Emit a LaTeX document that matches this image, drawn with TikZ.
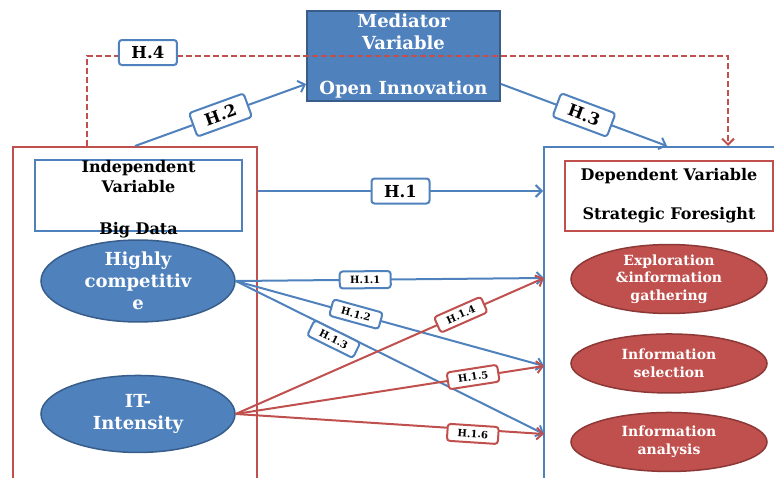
\documentclass[tikz,border=0pt]{standalone}
\usepackage{fontspec}
\setmainfont{DejaVu Serif}
\usetikzlibrary{positioning,shapes.geometric,arrows.meta}

\definecolor{hblue}{HTML}{4F81BD}
\definecolor{hbluedk}{HTML}{385D8A}
\definecolor{hred}{HTML}{C0504D}
\definecolor{hreddk}{HTML}{8C3836}

\tikzstyle{area} = [rectangle, draw, line width=2pt, fill=none, inner sep=0]
\tikzstyle{ib} = [rectangle, draw, fill=white, line width=2pt, inner sep=0, align=center, font=\bfseries\fontsize{16}{19}\selectfont]
\tikzstyle{eb} = [ellipse, draw=hbluedk, fill=hblue, line width=1.5pt, text=white, align=center, inner sep=0, minimum width=194, minimum height=77, font=\bfseries\fontsize{18}{22}\selectfont]
\tikzstyle{er} = [ellipse, draw=hreddk, fill=hred, line width=1.5pt, text=white, align=center, inner sep=0, minimum width=196, minimum height=59, font=\bfseries\fontsize{14}{17.5}\selectfont]
\tikzstyle{hb} = [rectangle, rounded corners=3pt, draw, solid, fill=white, text=black, line width=2pt, inner sep=0, minimum width=58, minimum height=25, font=\bfseries\fontsize{16.5}{18}\selectfont]
\tikzstyle{hs} = [hb, minimum width=51, minimum height=17, font=\bfseries\fontsize{10}{10}\selectfont]
\tikzstyle{l} = [draw, line width=2pt, -{Straight Barb[length=6pt,width=12pt]}]

\begin{document}
\begin{tikzpicture}[x=1pt, y=-1pt]
    \useasboundingbox (0,0) rectangle (774,477);
    % Place nodes
    \node [area, draw=hred, minimum width=244, minimum height=340] (ivarea) at (135,317) {};
    \node [area, draw=hblue, minimum width=246, minimum height=343] (dvarea) at (667,318.5) {};
    \node [ib, draw=hblue, minimum width=207, minimum height=71,
        label={[align=center, yshift=-4pt, font=\bfseries\fontsize{16}{20}\selectfont]center:{Independent\\Variable\\[22pt]Big Data}}] (iv) at (138.5,195.5) {};
    \node [ib, draw=hred, minimum width=208, minimum height=70] (dv) at (669,196) {Dependent Variable\\[20pt]Strategic Foresight};
    \node [rectangle, draw=hbluedk, fill=hblue, line width=2pt, text=white, align=center, inner sep=0,
        minimum width=193, minimum height=90, font=\bfseries\fontsize{18}{22}\selectfont] (med) at (403.5,56) {Mediator\\Variable\\[23pt]Open Innovation};
    \node [eb] (hc) at (138,281) {Highly\\competitiv\\e};
    \node [eb, below=52pt of hc] (it) {IT-\\Intensity};
    \node [er] (expl) at (669,279) {Exploration\\\&information\\gathering};
    \node [er, below=19pt of expl] (sel) {Information\\selection};
    \node [er, below=18pt of sel] (ana) {Information\\analysis};

    % Arrow ends
    \coordinate (t1) at (544,278);
    \coordinate (t2) at (544,366);
    \coordinate (t3) at (544,434);
    \coordinate (h4s) at ([xshift=-48]ivarea.north);
    \coordinate (h4e) at ([xshift=61]dvarea.north);

    % Draw edges
    \path [l, hblue] ([yshift=-45]ivarea.north east) -- node [hb] {H.1} ([yshift=-45]dvarea.north west);
    \path [l, hblue] (ivarea.north) -- node [hb, sloped] {H.2} ([yshift=-28]med.west);
    \path [l, hblue] ([yshift=-28]med.east) -- node [hb, sloped] {H.3} (dvarea.north);
    \path [l, hred, dash pattern=on 6pt off 3pt] (h4s) -- (h4s |- med.west) -- node [hb, draw=hblue, yshift=3.5pt, pos=0.095] {H.4} (h4e |- med.east) -- (h4e);

    \path [l, hblue] (hc.east) -- node [hs, sloped, pos=0.42] {H.1.1} (t1);
    \path [l, hblue] (hc.east) -- node [hs, sloped, pos=0.39] {H.1.2} (t2);
    \path [l, hblue] (hc.east) -- node [hs, sloped, below=-1pt, pos=0.33] {H.1.3} (t3);
    \path [l, hred] (it.east) -- node [hs, sloped, pos=0.73] {H.1.4} (t1);
    \path [l, hred] (it.east) -- node [hs, sloped, pos=0.77] {H.1.5} (t2);
    \path [l, hred] (it.east) -- node [hs, sloped, below=-5pt, pos=0.77] {H.1.6} (t3);

\end{tikzpicture}
\end{document}
